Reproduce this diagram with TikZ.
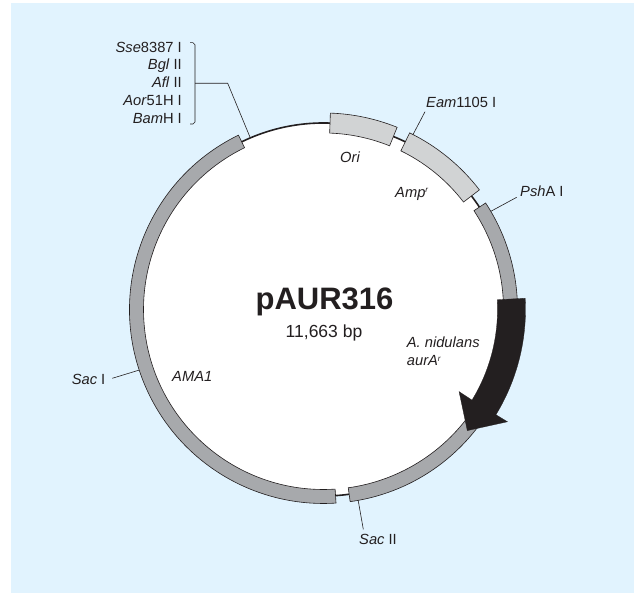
\documentclass[tikz,border=0pt]{standalone}
\usepackage{fontspec}
\setmainfont{Liberation Sans}
\definecolor{bgblue}{HTML}{E1F3FE}
\definecolor{bandgray}{HTML}{A7A9AC}
\definecolor{lightband}{HTML}{D1D3D4}
\definecolor{inkc}{HTML}{231F20}
\newcommand{\band}[5]{% start angle, end angle, inner R, outer R, fill
  \filldraw[draw=inkc,line width=0.6pt,fill=#5] (#1:#4) arc[start angle=#1,end angle=#2,radius=#4] -- (#2:#3) arc[start angle=#2,end angle=#1,radius=#3] -- cycle;}
\newcommand{\supr}{\raisebox{0.6ex}{\fontsize{8pt}{8pt}\selectfont r}}
\tikzset{
  lbl/.style={inner sep=0pt,text=inkc,font=\fontsize{14.7pt}{17pt}\selectfont},
  leader/.style={draw=inkc,line width=0.6pt},
}
\begin{document}
\begin{tikzpicture}[x=1pt,y=1pt]
\useasboundingbox (0,0) rectangle (634,593);
\fill[bgblue] (11,0) rectangle (634,590);
\begin{scope}[shift={(323.5,283.5)}]
  \fill[white] (0,0) circle[radius=186.5];
  \draw[inkc,line width=1.6pt] (0,0) circle[radius=186.5];
  \band{116}{273.7}{180}{194}{bandgray}
  \band{-82.1}{33.3}{180}{194}{bandgray}
  \band{88}{68}{176.5}{196.5}{lightband}
  \band{64}{37.5}{176.5}{196.5}{lightband}
  \filldraw[draw=inkc,fill=inkc,line width=0.3pt]
    (3.2:202) arc[start angle=3.2,end angle=-31.4,radius=202]
    -- (-31.4:215.5) -- (-40.1:188) -- (-31.2:158.5) -- (-31.4:174)
    arc[start angle=-31.4,end angle=3.2,radius=174] -- cycle;
  \coordinate (eamA) at (62.9:196.5);
  \coordinate (pshA) at (30.4:194);
  \coordinate (sac2A) at (-79.7:194);
  \coordinate (sac1A) at (198.2:194);
  \coordinate (bamA) at (113.1:186.5);
\end{scope}
% centre labels
\node[lbl,anchor=base,font=\bfseries\fontsize{31pt}{36pt}\selectfont] (title) at (324.5,283.7) {pAUR316};
\node[lbl,anchor=base,font=\fontsize{17.5pt}{20pt}\selectfont] (size) at (324,255.7) {11,663 bp};
% feature labels
\node[lbl,anchor=base west] (ori) at (340,430.3) {\itshape Ori};
\node[lbl,anchor=base west] (amp) at (395,395.7) {\itshape Amp\supr};
\node[lbl,anchor=base west] (ani) at (406.7,245.7) {\itshape A. nidulans};
\node[lbl,anchor=base west] (aur) at (406.7,227) {\itshape aurA\supr};
\node[lbl,anchor=base west] (ama) at (172,211) {\itshape AMA1};
% site labels
\node[lbl,anchor=base west] (eam) at (426,485) {\textit{Eam}1105 I};
\node[lbl,anchor=base west] (pshl) at (520,396.5) {\textit{Psh}A I};
\node[lbl,anchor=base west] (sac2) at (359,48) {\textit{Sac} II};
\node[lbl,anchor=base east] (sac1) at (105.5,208) {\textit{Sac} I};
\node[lbl,anchor=base east] (s1) at (182,540.3) {\textit{Sse}8387 I};
\node[lbl,anchor=base east] (s2) at (182,523) {\textit{Bgl} II};
\node[lbl,anchor=base east] (s3) at (182,505.7) {\textit{Afl} II};
\node[lbl,anchor=base east] (s4) at (182,487.3) {\textit{Aor}51H I};
\node[lbl,anchor=base east] (s5) at (182,469.7) {\textit{Bam}H I};
% leaders
\coordinate (brT) at (190,550.3);
\coordinate (brB) at (190,469);
\coordinate (brM) at (195,509.7);
\coordinate (bend) at (227.7,509.7);
\draw[leader] (brT) -- ++(3,0) -- ++(2,-2) -- (195,471) -- ++(-2,-2) -- (brB);
\draw[leader] (brM) -- (bend) -- (bamA);
\coordinate (eamT) at (425,481.3);
\draw[leader] (eamA) -- (eamT);
\coordinate (pshT) at (516.7,395.7);
\draw[leader] (pshA) -- (pshT);
\coordinate (sac2T) at (363.3,63.7);
\draw[leader] (sac2A) -- (sac2T);
\coordinate (sac1T) at (112.3,214.7);
\draw[leader] (sac1A) -- (sac1T);
\end{tikzpicture}
\end{document}
